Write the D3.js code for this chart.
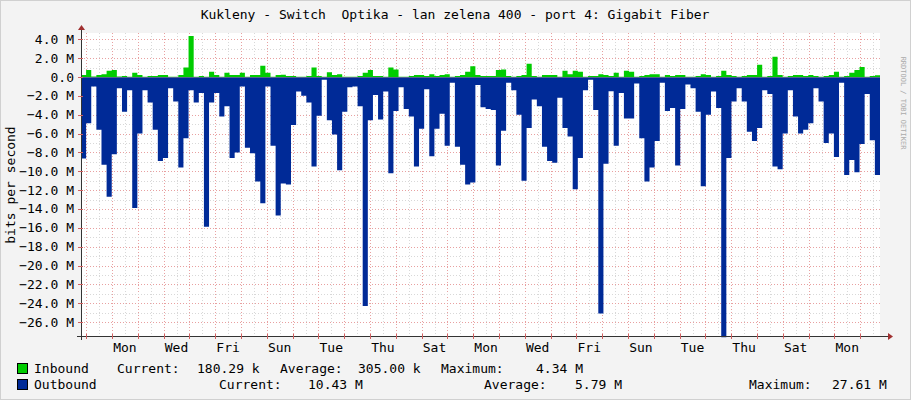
<!DOCTYPE html>
<html><head><meta charset="utf-8">
<script src="https://cdn.jsdelivr.net/npm/d3@7"></script>
<style>body{margin:0;background:#f3f3f3}svg{display:block}text{font-family:"DejaVu Sans Mono",monospace;fill:#000}</style>
</head><body><svg id="c" width="911" height="400"></svg>
<script>
const title = "Kukleny - Switch  Optika - lan zelena 400 - port 4: Gigabit Fiber";
const dayLabels = ["Mon","Wed","Fri","Sun","Tue","Thu","Sat","Mon","Wed","Fri","Sun","Tue","Thu","Sat","Mon"];
const yTicks = [4,2,0,-2,-4,-6,-8,-10,-12,-14,-16,-18,-20,-22,-24,-26];
// Outbound magnitudes (M bits/s), plotted negative
const outbound = [8.65,4.9,1.0,5.6,9.3,12.7,8.2,1.2,3.7,1.4,13.9,6.0,1.4,2.7,5.6,8.9,8.6,1.2,2.6,9.6,6.5,1.4,2.7,1.7,15.9,2.7,1.7,4.2,3.1,8.6,8.0,1.0,7.5,8.1,11.1,13.4,1.0,7.3,14.7,11.3,
11.4,5.1,1.55,2.0,2.7,9.5,4.1,0.3,4.6,6.1,9.9,3.7,1.1,1.0,3.1,24.3,4.6,1.9,4.5,1.55,10.2,3.6,1.1,3.4,4.2,9.5,5.5,1.3,8.4,5.5,3.9,7.3,0.6,7.4,9.3,11.4,11.2,0.85,3.2,3.4,
3.5,9.4,5.7,0.6,1.4,4.0,11.0,5.4,2.4,3.1,7.4,8.9,9.1,2.2,5.4,6.3,11.9,8.6,1.4,0.3,3.5,25.1,9.2,1.5,7.3,1.7,4.4,4.4,0.7,6.5,11.1,9.6,6.8,0.6,3.6,3.3,9.4,3.4,0.8,1.2,
3.7,11.6,4.0,1.55,3.3,27.6,8.6,2.6,1.2,2.6,5.8,6.8,5.4,1.4,1.8,9.5,9.8,6.0,1.4,4.2,6.0,5.6,4.9,1.2,2.6,7.0,6.0,8.5,0.6,10.4,8.8,10.1,7.1,1.8,6.7,10.4];
const inbound = [0.2,0.75,0.05,0.2,0.3,0.65,0.75,0.05,0.1,0.02,0.45,0.2,0.02,0.1,0.1,0.2,0.2,0.02,0.02,0.2,1.0,4.34,0.02,0.1,0.02,0.55,0.2,0.02,0.45,0.2,0.2,0.45,0.02,0.2,0.2,1.2,0.45,0.02,0.2,0.25,
0.1,0.1,0.02,0.02,0.1,1.0,0.1,0.02,0.5,0.2,0.3,0.02,0.02,0.02,0.1,0.45,0.75,0.1,0.1,0.02,1.0,0.8,0.02,0.02,0.1,0.2,0.2,0.1,0.3,0.1,0.2,0.3,0.02,0.1,0.2,0.55,1.15,0.2,0.1,0.1,
0.1,0.75,0.8,0.1,0.02,0.1,0.2,1.4,0.1,0.02,0.2,0.2,0.2,0.02,0.65,0.3,0.65,0.55,0.02,0.1,0.1,0.3,0.2,0.1,0.45,0.02,0.65,0.55,0.02,0.1,0.2,0.3,0.3,0.02,0.2,0.1,0.2,0.2,0.02,0.02,
0.1,0.3,0.2,0.02,0.1,0.65,0.2,0.1,0.02,0.1,0.2,0.2,1.3,0.02,0.1,2.15,0.2,0.02,0.1,0.2,0.2,0.1,0.2,0.1,0.02,0.1,0.2,0.55,0.02,0.1,0.45,0.75,1.05,0.02,0.1,0.18];
const legendIn = ["Inbound","Current:","180.29 k","Average:","305.00 k","Maximum:","4.34 M"];
const legendOut = ["Outbound","Current:","10.43 M","Average:","5.79 M","Maximum:","27.61 M"];

const svg = d3.select("#c");
const L=81,R=880,T=33,B=336;
const x = d3.scaleLinear().domain([0,1]).range([112,137.8]); // days
const t0 = x.invert(L), t1 = x.invert(R);
const y = d3.scaleLinear().domain([0,4]).range([77,39.3]);
svg.append("rect").attr("x",0.5).attr("y",0.5).attr("width",910).attr("height",399).attr("fill","#f3f3f3").attr("stroke","#d0d0d0");
svg.append("rect").attr("x",L).attr("y",T).attr("width",R-L).attr("height",B-T).attr("fill","#fff");
const g = svg.append("g");
for(let d=Math.ceil(t0*2)/2; d<=t1; d+=0.5){
  const isMaj = Number.isInteger(d);
  g.append("line").attr("x1",Math.round(x(d))+0.5).attr("x2",Math.round(x(d))+0.5).attr("y1",T).attr("y2",B)
   .attr("stroke",isMaj?"#e8a0a0":"#d8d8d8").attr("stroke-dasharray","1,2");
}
for(let v=-26;v<=4;v+=1){
  const isMaj = v%2===0;
  g.append("line").attr("x1",L).attr("x2",R).attr("y1",Math.round(y(v))+0.5).attr("y2",Math.round(y(v))+0.5)
   .attr("stroke",isMaj?"#e8a0a0":"#d8d8d8").attr("stroke-dasharray","1,2");
}
const n = outbound.length;
const tx = i => t0 + (t1-t0)*i/n;
const pts = d3.range(n+1).map(i=>i);
const val = (arr,i)=>arr[Math.min(i,n-1)];
const area = d3.area().curve(d3.curveStepAfter);
svg.append("path").attr("fill","#002a97")
  .attr("d", area.x(i=>x(tx(i))).y0(y(0)).y1(i=>y(-val(outbound,i)))(pts));
svg.append("path").attr("fill","#00cc00")
  .attr("d", area.x(i=>x(tx(i))).y0(y(0)).y1(i=>y(val(inbound,i)))(pts));
svg.append("line").attr("x1",L-4).attr("x2",R+8).attr("y1",B+0.5).attr("y2",B+0.5).attr("stroke","#333");
svg.append("line").attr("x1",L+0.5).attr("x2",L+0.5).attr("y1",T-4).attr("y2",B+4).attr("stroke","#333");
svg.append("line").attr("x1",L).attr("x2",R).attr("y1",y(0)+0.5).attr("y2",y(0)+0.5).attr("stroke","#888").attr("stroke-width",0.6);
svg.append("path").attr("d",`M${R+8},${B-3}L${R+13},${B+0.5}L${R+8},${B+4}Z`).attr("fill","#a03030");
svg.append("path").attr("d",`M${L-3},${T-3}L${L+0.5},${T-8}L${L+4},${T-3}Z`).attr("fill","#a03030");
for(let d=Math.ceil(t0); d<=t1; d++){
  svg.append("line").attr("x1",Math.round(x(d))+0.5).attr("x2",Math.round(x(d))+0.5).attr("y1",B-2).attr("y2",B+3).attr("stroke","#d06060");
}
yTicks.forEach(v=>{
  svg.append("line").attr("x1",L-3).attr("x2",L+2).attr("y1",Math.round(y(v))+0.5).attr("y2",Math.round(y(v))+0.5).attr("stroke","#d06060");
  svg.append("text").attr("x",74).attr("y",y(v)+4.5).attr("text-anchor","end").attr("font-size",13)
    .text(v===0?"0.0":d3.format(".1f")(v)+" M");
});
dayLabels.forEach((s,k)=>{
  svg.append("text").attr("x",x(0.5+2*k)).attr("y",352).attr("text-anchor","middle").attr("font-size",13).text(s);
});
svg.append("text").attr("x",455).attr("y",19).attr("text-anchor","middle").attr("font-size",13).attr("xml:space","preserve").style("white-space","pre").text(title);
svg.append("text").attr("transform","translate(15,185) rotate(-90)").attr("text-anchor","middle").attr("font-size",13).text("bits per second");
svg.append("text").attr("transform","translate(901,103) rotate(90)").attr("text-anchor","middle").attr("font-size",7).style("fill","#aaa").text("RRDTOOL / TOBI OETIKER");
const legend = (row,color,yy,xs)=>{
  svg.append("rect").attr("x",17.5).attr("y",yy-9.5).attr("width",10).attr("height",10).attr("fill",color).attr("stroke","#000");
  row.forEach((s,i)=>svg.append("text").attr("x",xs[i]).attr("y",yy).attr("font-size",13).text(s));
};
legend(legendIn,"#00cc00",373,[34,117,197,280,358,441,536]);
legend(legendOut,"#002a97",389,[34,219,308,484,575,749,832]);
</script></body></html>
